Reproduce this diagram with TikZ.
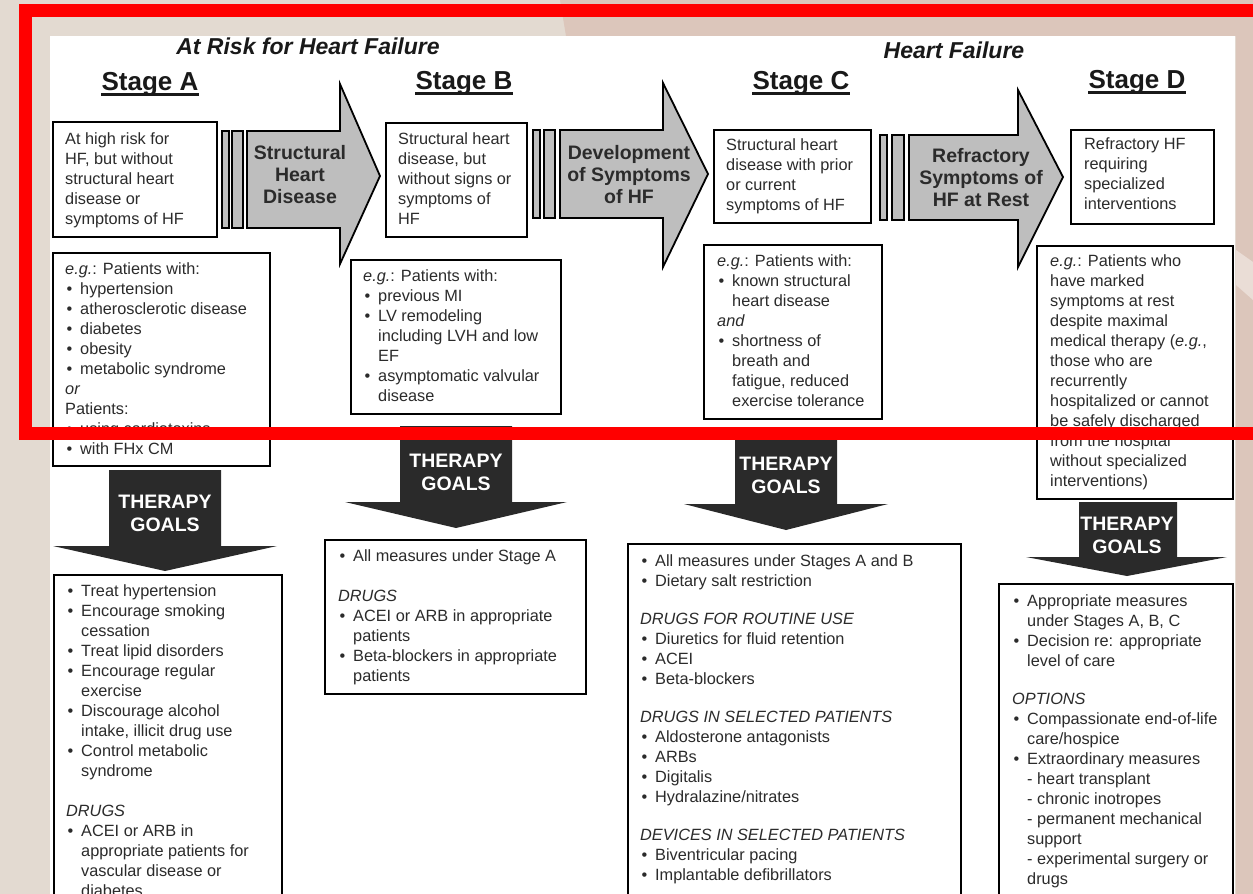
\documentclass[tikz,border=0pt]{standalone}
\usepackage{fontspec}
\setmainfont{Liberation Sans}
\definecolor{bgbeige}{HTML}{E3DAD1}
\definecolor{bgpink}{HTML}{DCC6BB}
\definecolor{arrgray}{HTML}{BEBEBE}
\definecolor{darkarr}{HTML}{2A2A2A}
\definecolor{txtc}{HTML}{2B2B2B}
\definecolor{redline}{HTML}{FF0000}
\newcommand{\bl}{\makebox[15pt][l]{\hspace{1.5pt}•}}
\newcommand{\ii}{\hspace*{15pt}}
\tikzset{
  stbox/.style={draw=black, line width=1.5pt, fill=white, inner sep=0pt, anchor=north west},
  body/.style={anchor=north west, inner sep=0pt, align=left, text=txtc, font=\fontsize{16.3}{20}\selectfont},
  grayarrow/.style={draw=black, line width=1.8pt, fill=arrgray, line join=miter},
  bar/.style={draw=black, line width=1.5pt, fill=arrgray},
  darkarrow/.style={fill=darkarr},
  arrtext/.style={align=center, inner sep=0pt, text=txtc, font=\fontsize{19.5}{22}\selectfont\bfseries},
  thertext/.style={align=center, inner sep=0pt, text=white, font=\fontsize{19.5}{23}\selectfont\bfseries},
  stagehead/.style={anchor=base, inner sep=0pt, text=black!90, font=\fontsize{26}{30}\selectfont\bfseries},
  grouphead/.style={inner sep=0pt, text=black!90, font=\fontsize{23}{27}\selectfont\bfseries\itshape},
  uline/.style={line width=2.2pt, black!90}
}
\begin{document}
\begin{tikzpicture}[x=1pt,y=-1pt]
\clip (0,0) rectangle (1253,894);
% background
\fill[bgbeige] (0,0) rectangle (1253,894);
\fill[bgpink] (560,0) -- (1253,0) -- (1253,894) -- (1236,894) -- (1236,36) -- (566,36) -- cycle;
\fill[bgpink!60!white] (1236,250) -- (1253,262) -- (1253,300) -- (1236,285) -- cycle;
\fill[white] (50,36) rectangle (1235,894);

% group headings
\node[grouphead] (hRisk) at (308,46) {At Risk for Heart Failure};
\node[grouphead] (hHF) at (954,50) {Heart Failure};

% stage headings
\node[stagehead] (hA) at (150,90) {Stage A};
\node[stagehead] (hB) at (464,89) {Stage B};
\node[stagehead] (hC) at (801,89) {Stage C};
\node[stagehead] (hD) at (1137,88) {Stage D};
\foreach \h in {hA,hB,hC,hD}{
  \draw[uline] ([yshift=-4.5pt]\h.base west) -- ([yshift=-4.5pt]\h.base east);
}

% top stage boxes
\node[stbox, minimum width=164, minimum height=115] (sA) at (52,121) {};
\node[body] (sAt) at (65,132) {At high risk for\\HF, but without\\structural heart\\disease or\\symptoms of HF};
\node[stbox, minimum width=141, minimum height=114] (sB) at (385,122) {};
\node[body] (sBt) at (398,132) {Structural heart\\disease, but\\without signs or\\symptoms of\\HF};
\node[stbox, minimum width=157, minimum height=93] (sC) at (713,129) {};
\node[body] (sCt) at (726,138) {Structural heart\\disease with prior\\or current\\symptoms of HF};
\node[stbox, minimum width=143, minimum height=94] (sD) at (1070,129) {};
\node[body] (sDt) at (1084,138) {Refractory HF\\requiring\\specialized\\interventions};

% bars and gray arrows
\draw[bar] (222,131) rectangle (229,228);
\draw[bar] (232,131) rectangle (243,228);
\draw[grayarrow] (247,131) -- (340,131) -- (340,84) -- (380,176) -- (340,264) -- (340,228) -- (247,228) -- cycle;
\node[arrtext] (aA) at (300,175) {Structural\\Heart\\Disease};

\draw[bar] (533,130) rectangle (540,218);
\draw[bar] (544,130) rectangle (555,218);
\draw[grayarrow] (560,130) -- (663,130) -- (663,83) -- (708,174) -- (663,267) -- (663,218) -- (560,218) -- cycle;
\node[arrtext] (aB) at (629,175) {Development\\of Symptoms\\of HF};

\draw[bar] (880,135) rectangle (887,220);
\draw[bar] (892,135) rectangle (904,220);
\draw[grayarrow] (909,135) -- (1018,135) -- (1018,90) -- (1063,177) -- (1018,267) -- (1018,220) -- (909,220) -- cycle;
\node[arrtext] (aC) at (981,178) {Refractory\\Symptoms of\\HF at Rest};

% e.g. boxes
\node[stbox, minimum width=217, minimum height=213] (eA) at (52,252) {};
\node[body] (eAt) at (65,262) {\textit{e.g.}: Patients with:\\
\bl hypertension\\
\bl atherosclerotic disease\\
\bl diabetes\\
\bl obesity\\
\bl metabolic syndrome\\
\textit{or}\\
Patients:\\
\bl using cardiotoxins\\
\bl with FHx CM};

\node[stbox, minimum width=210, minimum height=154] (eB) at (350,259) {};
\node[body] (eBt) at (363,269) {\textit{e.g.}: Patients with:\\
\bl previous MI\\
\bl LV remodeling\\
\ii including LVH and low\\
\ii EF\\
\bl asymptomatic valvular\\
\ii disease};

\node[stbox, minimum width=178, minimum height=174] (eC) at (703,244) {};
\node[body] (eCt) at (717,254) {\textit{e.g.}: Patients with:\\
\bl known structural\\
\ii heart disease\\
\textit{and}\\
\bl shortness of\\
\ii breath and\\
\ii fatigue, reduced\\
\ii exercise tolerance};

\node[stbox, minimum width=196, minimum height=253] (eD) at (1036,245) {};
\node[body] (eDt) at (1050,254) {\textit{e.g.}: Patients who\\
have marked\\
symptoms at rest\\
despite maximal\\
medical therapy (\textit{e.g.},\\
those who are\\
recurrently\\
hospitalized or cannot\\
be safely discharged\\
from the hospital\\
without specialized\\
interventions)};

% therapy goal arrows
\fill[darkarrow] (109,470) -- (221,470) -- (221,546) -- (277,546) -- (165,571) -- (53,546) -- (109,546) -- cycle;
\node[thertext] (gA) at (165,513) {THERAPY\\GOALS};
\fill[darkarrow] (400,426) -- (512,426) -- (512,502) -- (567,502) -- (456,528) -- (345,502) -- (400,502) -- cycle;
\node[thertext] (gB) at (456,472) {THERAPY\\GOALS};
\fill[darkarrow] (735,428) -- (837,428) -- (837,504) -- (888,504) -- (786,530) -- (684,504) -- (735,504) -- cycle;
\node[thertext] (gC) at (786,475) {THERAPY\\GOALS};
\fill[darkarrow] (1079,502) -- (1177,502) -- (1177,557) -- (1227,557) -- (1127,576) -- (1026,557) -- (1079,557) -- cycle;
\node[thertext] (gD) at (1127,535) {THERAPY\\GOALS};

% therapy boxes
\node[stbox, minimum width=228, minimum height=340] (tA) at (53,574) {};
\node[body] (tAt) at (66,584) {\bl Treat hypertension\\
\bl Encourage smoking\\
\ii cessation\\
\bl Treat lipid disorders\\
\bl Encourage regular\\
\ii exercise\\
\bl Discourage alcohol\\
\ii intake, illicit drug use\\
\bl Control metabolic\\
\ii syndrome\\[20pt]
\textit{DRUGS}\\
\bl ACEI or ARB in\\
\ii appropriate patients for\\
\ii vascular disease or\\
\ii diabetes};

\node[stbox, minimum width=261, minimum height=154] (tB) at (324,539) {};
\node[body] (tBt) at (338,549) {\bl All measures under Stage A\\[20pt]
\textit{DRUGS}\\
\bl ACEI or ARB in appropriate\\
\ii patients\\
\bl Beta-blockers in appropriate\\
\ii patients};

\node[stbox, minimum width=333, minimum height=380] (tC) at (627,543) {};
\node[body] (tCt) at (640,554) {\bl All measures under Stages A and B\\
\bl Dietary salt restriction\\[18pt]
\textit{DRUGS FOR ROUTINE USE}\\
\bl Diuretics for fluid retention\\
\bl ACEI\\
\bl Beta-blockers\\[18pt]
\textit{DRUGS IN SELECTED PATIENTS}\\
\bl Aldosterone antagonists\\
\bl ARBs\\
\bl Digitalis\\
\bl Hydralazine/nitrates\\[18pt]
\textit{DEVICES IN SELECTED PATIENTS}\\
\bl Biventricular pacing\\
\bl Implantable defibrillators};

\node[stbox, minimum width=234, minimum height=340] (tD) at (998,583) {};
\node[body] (tDt) at (1012,594) {\bl Appropriate measures\\
\ii under Stages A, B, C\\
\bl Decision re: appropriate\\
\ii level of care\\[18pt]
\textit{OPTIONS}\\
\bl Compassionate end-of-life\\
\ii care/hospice\\
\bl Extraordinary measures\\
\ii - heart transplant\\
\ii - chronic inotropes\\
\ii - permanent mechanical\\
\ii support\\
\ii - experimental surgery or\\
\ii drugs};

% red highlight frame
\draw[redline, line width=13pt] (25.5,10.5) rectangle (1275,433);
\end{tikzpicture}
\end{document}
